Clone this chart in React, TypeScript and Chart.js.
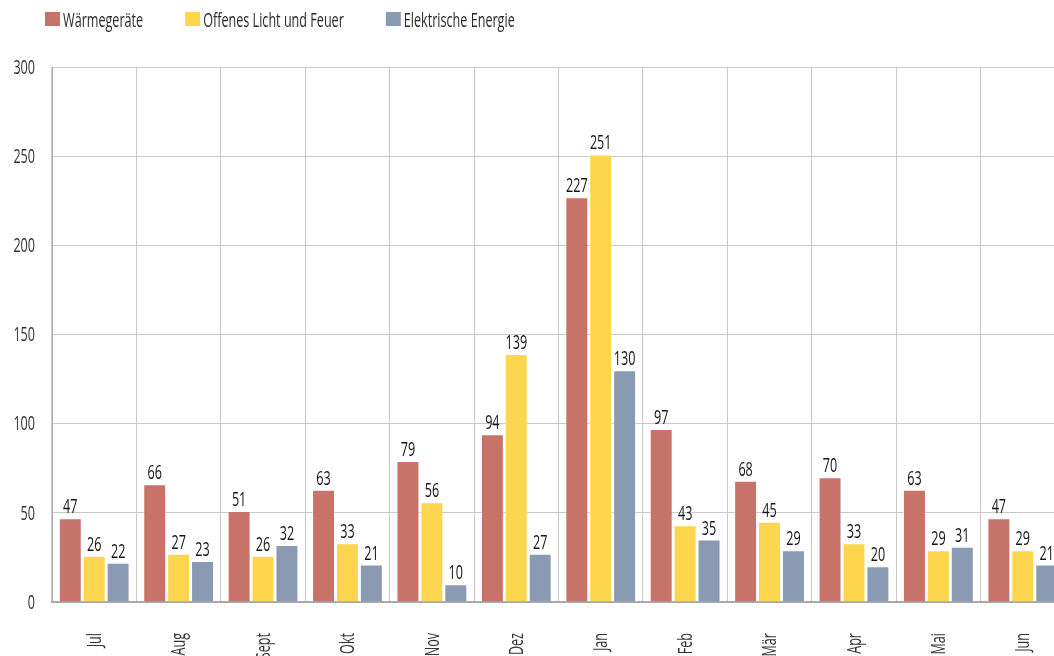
import React, { useEffect, useRef } from "react";
import { Chart, registerables } from "chart.js";

Chart.register(...registerables);

const categories = ["Jul", "Aug", "Sept", "Okt", "Nov", "Dez", "Jan", "Feb", "Mär", "Apr", "Mai", "Jun"];
const waermegeraete = [47, 66, 51, 63, 79, 94, 227, 97, 68, 70, 63, 47];
const offenesLicht = [26, 27, 26, 33, 56, 139, 251, 43, 45, 33, 29, 29];
const elektrisch = [22, 23, 32, 21, 10, 27, 130, 35, 29, 20, 31, 21];
const seriesNames = ["Wärmegeräte", "Offenes Licht und Feuer", "Elektrische Energie"];
const seriesColors = ["#C8736A", "#FDD54F", "#8A9AB3"];
const yTicks = [0, 50, 100, 150, 200, 250, 300];

const FONT_FAMILY = "'Open Sans', 'Noto Sans', sans-serif";
const FONT_SIZE = 20;
const SX = 0.63; // horizontal condensing factor

const CANVAS_W = 1070;
const CANVAS_H = 700;

function drawText(
  ctx: CanvasRenderingContext2D,
  text: string,
  x: number,
  y: number,
  align: CanvasTextAlign,
  baseline: CanvasTextBaseline,
  color: string,
  rotate = 0
) {
  ctx.save();
  ctx.translate(x, y);
  if (rotate) ctx.rotate(rotate);
  ctx.scale(SX, 1);
  ctx.font = `${FONT_SIZE}px ${FONT_FAMILY}`;
  ctx.fillStyle = color;
  ctx.textAlign = align;
  ctx.textBaseline = baseline;
  ctx.fillText(text, 0, 0);
  ctx.restore();
}

function textWidth(ctx: CanvasRenderingContext2D, text: string) {
  ctx.save();
  ctx.font = `${FONT_SIZE}px ${FONT_FAMILY}`;
  const w = ctx.measureText(text).width * SX;
  ctx.restore();
  return w;
}

const textPlugin = {
  id: "textPlugin",
  afterDraw(chart: any) {
    const ctx: CanvasRenderingContext2D = chart.ctx;
    const xs = chart.scales.x;
    const ys = chart.scales.y;
    ys.ticks.forEach((t: any) => {
      drawText(ctx, String(t.value), 35, ys.getPixelForValue(t.value) + 1, "right", "middle", "#333");
    });
    chart.data.labels.forEach((lab: string, i: number) => {
      const x = xs.getPixelForValue(i);
      drawText(ctx, lab, x + 1, 633, "right", "middle", "#333", -Math.PI / 2);
    });
    chart.data.datasets.forEach((ds: any, i: number) => {
      const meta = chart.getDatasetMeta(i);
      meta.data.forEach((bar: any, j: number) => {
        drawText(ctx, String(ds.data[j]), bar.x, bar.y - 5, "center", "alphabetic", "#151515");
      });
    });
    let x = 45;
    chart.data.datasets.forEach((ds: any) => {
      ctx.fillStyle = ds.backgroundColor;
      ctx.fillRect(x, 12, 15, 14);
      drawText(ctx, ds.label, x + 18, 27, "left", "alphabetic", "#2a2a2a");
      x += 18 + textWidth(ctx, ds.label) + 42;
    });
  },
};

export default function App() {
  const ref = useRef<HTMLCanvasElement | null>(null);
  useEffect(() => {
    if (!ref.current) return;
    const data = [waermegeraete, offenesLicht, elektrisch];
    const chart = new Chart(ref.current, {
      type: "bar",
      data: {
        labels: categories,
        datasets: data.map((d, i) => ({
          label: seriesNames[i],
          data: d,
          backgroundColor: seriesColors[i],
          borderColor: "rgba(255,255,255,0.5)",
          borderWidth: 1,
          categoryPercentage: 0.85,
          barPercentage: 0.96,
        })),
      },
      options: {
        responsive: false,
        animation: false,
        layout: { padding: { top: 67, right: 5, left: 0, bottom: 0 } },
        plugins: {
          legend: { display: false },
          tooltip: { enabled: false },
        },
        scales: {
          x: {
            grid: { color: "#c8c8c8", drawTicks: false, offset: true },
            border: { color: "#a8a8a8", width: 2 },
            ticks: { display: false },
            afterFit(scale: any) {
              scale.height = CANVAS_H - 602;
            },
          },
          y: {
            min: 0,
            max: 300,
            afterBuildTicks(scale: any) {
              scale.ticks = yTicks.map((v) => ({ value: v }));
            },
            grid: { color: "#c8c8c8", drawTicks: false },
            border: { color: "#b0b0b0", width: 1 },
            ticks: { display: false },
            afterFit(scale: any) {
              scale.width = 52;
            },
          },
        },
      },
      plugins: [textPlugin],
    });
    return () => chart.destroy();
  }, []);
  return (
    <div
      style={{
        position: "fixed",
        left: 0,
        top: 0,
        width: 1054,
        height: 656,
        overflow: "hidden",
        background: "#fff",
      }}
    >
      <canvas ref={ref} width={CANVAS_W} height={CANVAS_H} style={{ width: CANVAS_W, height: CANVAS_H, display: "block" }} />
    </div>
  );
}
